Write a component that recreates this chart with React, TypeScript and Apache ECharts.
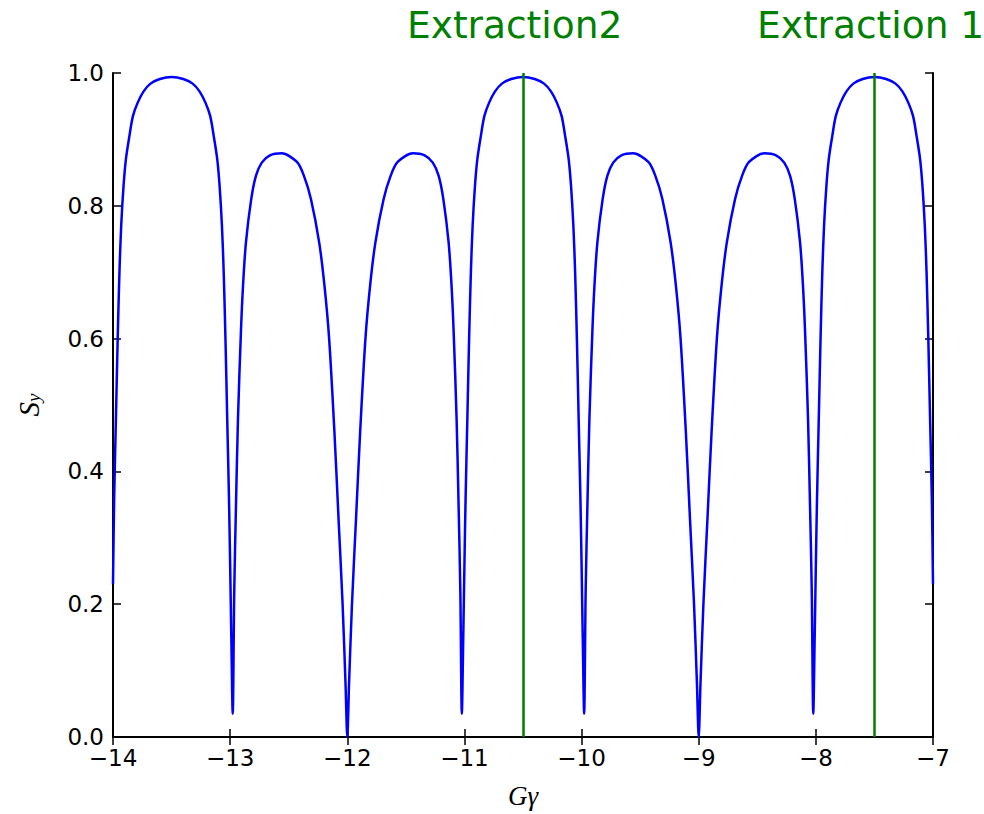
import React, { useEffect, useRef } from "react";
import * as echarts from "echarts";

// G*gamma values (x)
const gammaG: number[] = [
  -14.0, -13.99, -13.975, -13.96, -13.945, -13.93, -13.91, -13.89, -13.86, -13.83, -13.79, -13.74, -13.68, -13.6, -13.5,
  -13.4, -13.32, -13.26, -13.21, -13.17, -13.14, -13.11, -13.09, -13.07, -13.055, -13.04, -13.025, -13.01, -13.0, -12.99, -12.978,
  -12.965, -12.95, -12.933, -12.908, -12.89, -12.865, -12.82, -12.78, -12.73, -12.66, -12.56,
  -12.43, -12.37, -12.31, -12.24, -12.195, -12.155, -12.11, -12.075, -12.04, -12.015, -12.0,
  -11.985, -11.96, -11.925, -11.89, -11.845, -11.805, -11.76, -11.69, -11.63, -11.57, -11.44,
  -11.34, -11.27, -11.22, -11.18, -11.135, -11.11, -11.092, -11.067, -11.05, -11.035, -11.022,
  -11.01, -11.0, -10.99, -10.975, -10.96, -10.945, -10.93, -10.91, -10.89, -10.86, -10.83, -10.79, -10.74, -10.68, -10.6, -10.5,
  -10.4, -10.32, -10.26, -10.21, -10.17, -10.14, -10.11, -10.09, -10.07, -10.055, -10.04, -10.025, -10.01, -10.0, -9.99, -9.978,
  -9.965, -9.95, -9.933, -9.908, -9.89, -9.865, -9.82, -9.78, -9.73, -9.66, -9.56,
  -9.43, -9.37, -9.31, -9.24, -9.195, -9.155, -9.11, -9.075, -9.04, -9.015, -9.0,
  -8.985, -8.96, -8.925, -8.89, -8.845, -8.805, -8.76, -8.69, -8.63, -8.57, -8.44,
  -8.34, -8.27, -8.22, -8.18, -8.135, -8.11, -8.092, -8.067, -8.05, -8.035, -8.022,
  -8.01, -8.0, -7.99, -7.975, -7.96, -7.945, -7.93, -7.91, -7.89, -7.86, -7.83, -7.79, -7.74, -7.68, -7.6, -7.5,
  -7.4, -7.32, -7.26, -7.21, -7.17, -7.14, -7.11, -7.09, -7.07, -7.055, -7.04, -7.025, -7.01, -7.0,
];

// S_y values (y)
const sy: number[] = [
  0.23, 0.36, 0.48, 0.6, 0.7, 0.77, 0.83, 0.87, 0.905, 0.935, 0.955, 0.972, 0.984, 0.991, 0.994,
  0.991, 0.984, 0.972, 0.955, 0.935, 0.905, 0.87, 0.83, 0.77, 0.7, 0.6, 0.48, 0.36, 0.26, 0.15, 0.035,
  0.22, 0.35, 0.48, 0.61, 0.68, 0.745, 0.81, 0.845, 0.865, 0.876, 0.879,
  0.866, 0.845, 0.81, 0.745, 0.68, 0.6, 0.46, 0.33, 0.2, 0.08, 0.0,
  0.08, 0.2, 0.33, 0.46, 0.6, 0.68, 0.745, 0.81, 0.845, 0.866, 0.879,
  0.876, 0.865, 0.845, 0.81, 0.745, 0.68, 0.61, 0.48, 0.35, 0.22, 0.035,
  0.15, 0.26, 0.36, 0.48, 0.6, 0.7, 0.77, 0.83, 0.87, 0.905, 0.935, 0.955, 0.972, 0.984, 0.991, 0.994,
  0.991, 0.984, 0.972, 0.955, 0.935, 0.905, 0.87, 0.83, 0.77, 0.7, 0.6, 0.48, 0.36, 0.26, 0.15, 0.035,
  0.22, 0.35, 0.48, 0.61, 0.68, 0.745, 0.81, 0.845, 0.865, 0.876, 0.879,
  0.866, 0.845, 0.81, 0.745, 0.68, 0.6, 0.46, 0.33, 0.2, 0.08, 0.0,
  0.08, 0.2, 0.33, 0.46, 0.6, 0.68, 0.745, 0.81, 0.845, 0.866, 0.879,
  0.876, 0.865, 0.845, 0.81, 0.745, 0.68, 0.61, 0.48, 0.35, 0.22, 0.035,
  0.15, 0.26, 0.36, 0.48, 0.6, 0.7, 0.77, 0.83, 0.87, 0.905, 0.935, 0.955, 0.972, 0.984, 0.991, 0.994,
  0.991, 0.984, 0.972, 0.955, 0.935, 0.905, 0.87, 0.83, 0.77, 0.7, 0.6, 0.48, 0.36, 0.23,
];

const extractionX: number[] = [-10.5, -7.5];
const extractionLabels: string[] = ["Extraction2", "Extraction 1"];
const extractionLabelLeft: number[] = [407, 757];

const fmtMinus = (v: number) => String(v).replace("-", "\u2212");

export default function App() {
  const ref = useRef<HTMLDivElement>(null);
  useEffect(() => {
    if (!ref.current) return;
    const chart = echarts.init(ref.current, undefined, { renderer: "svg" });
    const tickFont = { fontFamily: "DejaVu Sans", fontSize: 23, lineHeight: 20, color: "#000" };
    const axisLine = { show: true, lineStyle: { color: "#000", width: 2 } };
    const axisTick = { show: true, inside: true, length: 8, lineStyle: { color: "#000", width: 1.5 } };
    const data = gammaG.map((x, i) => [x, sy[i]]);
    chart.setOption({
      animation: false,
      grid: { left: 113, top: 73, width: 820, height: 668, containLabel: false },
      xAxis: [
        {
          type: "value", min: -14, max: -7, interval: 1, position: "bottom",
          axisLine, axisTick, splitLine: { show: false },
          axisLabel: { ...tickFont, margin: 11, formatter: (v: number) => fmtMinus(v) },
          name: "{g|G}{m|\u03b3}", nameLocation: "middle", nameGap: 45,
          nameTextStyle: {
            rich: {
              g: { fontFamily: "Liberation Serif", fontStyle: "italic", fontSize: 27, color: "#000" },
              m: { fontFamily: "Liberation Serif", fontStyle: "italic", fontSize: 27, color: "#000" },
            },
          },
        },
        {
          type: "value", min: -14, max: -7, interval: 1, position: "top",
          axisLine, axisTick, axisLabel: { show: false }, splitLine: { show: false },
        },
      ],
      yAxis: [
        {
          type: "value", min: 0, max: 1, interval: 0.2, position: "left",
          axisLine, axisTick, splitLine: { show: false },
          axisLabel: { ...tickFont, margin: 9, formatter: (v: number) => v.toFixed(1) },
          name: "{s|S}{y|y}", nameLocation: "middle", nameGap: 70,
          nameTextStyle: {
            rich: {
              s: { fontFamily: "Liberation Serif", fontStyle: "italic", fontSize: 29, color: "#000", verticalAlign: "top" },
              y: { fontFamily: "Liberation Serif", fontStyle: "italic", fontSize: 19, color: "#000", verticalAlign: "bottom", padding: [10, 0, 0, 0] },
            },
          },
        },
        {
          type: "value", min: 0, max: 1, interval: 0.2, position: "right",
          axisLine, axisTick, axisLabel: { show: false }, splitLine: { show: false },
        },
      ],
      series: [
        {
          type: "line",
          data,
          showSymbol: false,
          symbol: "none",
          smooth: 0.3,
          lineStyle: { color: "#0000ff", width: 2.5 },
          clip: true,
          markLine: {
            silent: true,
            symbol: "none",
            label: { show: false },
            lineStyle: { color: "#008000", width: 2.5, type: "solid" },
            data: extractionX.map((x) => ({ xAxis: x })),
          },
          z: 2,
        },
      ],
      graphic: extractionLabels.map((t, i) => ({
        type: "text",
        left: extractionLabelLeft[i],
        top: 6,
        style: { text: t, fill: "#008000", fontFamily: "DejaVu Sans", fontSize: 37.5 },
      })),
    });
    return () => chart.dispose();
  }, []);
  return (
    <div
      ref={ref}
      style={{ position: "absolute", left: 0, top: 0, width: 984, height: 814 }}
    />
  );
}
